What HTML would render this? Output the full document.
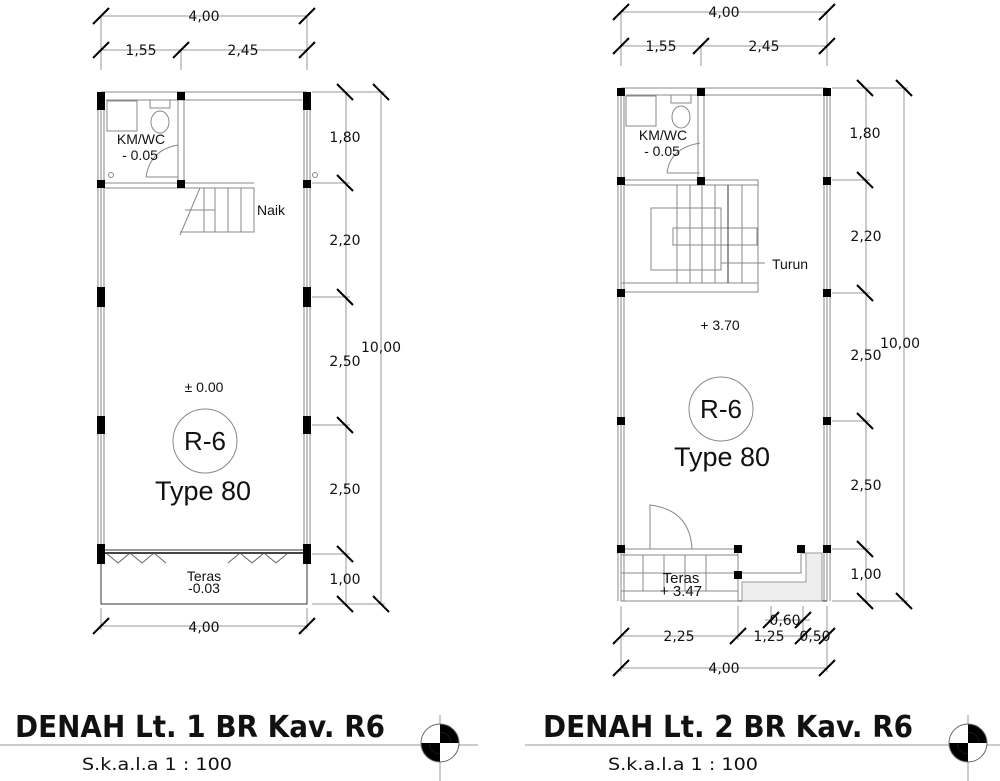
<!DOCTYPE html>
<html><head><meta charset="utf-8"><style>
html,body{margin:0;padding:0;background:#fff}
svg{display:block}
text{font-family:"DejaVu Sans","Liberation Sans",sans-serif;fill:#111}
</style></head><body>
<svg width="1000" height="781" viewBox="0 0 1000 781" xmlns="http://www.w3.org/2000/svg">
<g stroke="#999" stroke-width="1" fill="none">
<line x1="101" y1="16" x2="307" y2="16"/><line x1="101" y1="50" x2="307" y2="50"/>
<line x1="101" y1="16" x2="101" y2="70"/><line x1="307" y1="16" x2="307" y2="70"/><line x1="181" y1="50" x2="181" y2="70"/>
<line x1="346" y1="92" x2="346" y2="604"/><line x1="381" y1="92" x2="381" y2="604"/>
<line x1="312" y1="92" x2="385" y2="92"/><line x1="312" y1="183" x2="350" y2="183"/><line x1="312" y1="297" x2="350" y2="297"/><line x1="312" y1="425" x2="350" y2="425"/><line x1="312" y1="554" x2="350" y2="554"/><line x1="312" y1="604" x2="385" y2="604"/>
<line x1="101" y1="626" x2="307" y2="626"/><line x1="101" y1="608" x2="101" y2="630"/><line x1="307" y1="608" x2="307" y2="630"/>
<line x1="621" y1="12" x2="827" y2="12"/><line x1="621" y1="46" x2="827" y2="46"/>
<line x1="621" y1="12" x2="621" y2="66"/><line x1="827" y1="12" x2="827" y2="66"/><line x1="701" y1="46" x2="701" y2="66"/>
<line x1="866" y1="88" x2="866" y2="601"/><line x1="904" y1="88" x2="904" y2="601"/>
<line x1="832" y1="88" x2="908" y2="88"/><line x1="832" y1="180" x2="870" y2="180"/><line x1="832" y1="293" x2="870" y2="293"/><line x1="832" y1="421" x2="870" y2="421"/><line x1="832" y1="549" x2="870" y2="549"/><line x1="832" y1="601" x2="908" y2="601"/>
<line x1="621" y1="636" x2="827" y2="636"/><line x1="621" y1="668" x2="827" y2="668"/>
<line x1="621" y1="606" x2="621" y2="672"/><line x1="827" y1="606" x2="827" y2="672"/><line x1="738" y1="606" x2="738" y2="640"/><line x1="803" y1="606" x2="803" y2="640"/><line x1="771" y1="606" x2="771" y2="624"/>
<line x1="765" y1="620" x2="810" y2="620"/>
<line x1="0" y1="745" x2="478" y2="745"/><line x1="525" y1="745" x2="1000" y2="745"/>
<line x1="440" y1="715" x2="440" y2="781"/><line x1="968" y1="715" x2="968" y2="781"/>
</g>
<g stroke="#000" stroke-width="2">
<path d="M93 24L109 8M299 24L315 8M93 58L109 42M173 58L189 42M299 58L315 42M93 634L109 618M299 634L315 618"/>
<path d="M337 84L353 100M337 175L353 191M337 289L353 305M337 417L353 433M337 546L353 562M337 596L353 612M373 84L389 100M373 596L389 612"/>
<path d="M613 20L629 4M819 20L835 4M613 54L629 38M693 54L709 38M819 54L835 38"/>
<path d="M857 80L873 96M857 172L873 188M857 285L873 301M857 413L873 429M857 541L873 557M857 593L873 609M896 80L912 96M896 593L912 609"/>
<path d="M613 644L629 628M730 644L746 628M795 644L811 628M819 644L835 628M613 676L629 660M819 676L835 660M763 628L779 612M795 628L811 612"/>
</g>
<g stroke="#888" stroke-width="1" fill="none">
<line x1="101" y1="92" x2="307" y2="92"/><line x1="106" y1="100" x2="302" y2="100"/>
<line x1="98" y1="92" x2="98" y2="560"/><line x1="101" y1="92" x2="101" y2="560"/><line x1="104" y1="92" x2="104" y2="560"/>
<line x1="304" y1="92" x2="304" y2="560"/><line x1="307" y1="92" x2="307" y2="560"/><line x1="310" y1="92" x2="310" y2="560"/>
<rect x="101" y="550" width="206" height="54" stroke="#333"/>
<line x1="104" y1="183" x2="254" y2="183"/><line x1="104" y1="188" x2="254" y2="188"/>
<line x1="178" y1="100" x2="178" y2="183"/><line x1="184" y1="100" x2="184" y2="183"/>
<rect x="107" y="101" width="30" height="30"/><rect x="150" y="100" width="20" height="8"/>
<ellipse cx="160" cy="122" rx="9" ry="11"/>
<path d="M146 177 Q150 150 178 145"/><line x1="146" y1="177" x2="178" y2="177"/>
<path d="M180 235L200 188H254V232H180"/><line x1="215" y1="188" x2="215" y2="232"/><line x1="228" y1="188" x2="228" y2="232"/><line x1="241" y1="188" x2="241" y2="232"/><line x1="204" y1="188" x2="204" y2="232"/>
<path d="M185 210H215"/>
<circle cx="205" cy="441" r="32"/>
<path d="M106 553l12 10 12-10 12 10 12-10 12 10M228 563l12-10 12 10 12-10 12 10 12-10" stroke="#666"/>
<line x1="104" y1="553" x2="304" y2="553" stroke="#444" stroke-width="2"/>
<circle cx="111" cy="175" r="2.5"/><circle cx="315" cy="175" r="2.5"/>
</g>
<g fill="#000">
<rect x="97" y="92" width="8" height="18"/><rect x="303" y="92" width="8" height="18"/>
<rect x="177" y="92" width="8" height="8"/><rect x="97" y="180" width="8" height="8"/><rect x="177" y="180" width="8" height="8"/><rect x="303" y="180" width="8" height="8"/>
<rect x="97" y="287" width="8" height="20"/><rect x="303" y="287" width="8" height="20"/>
<rect x="97" y="416" width="8" height="18"/><rect x="303" y="416" width="8" height="18"/>
<rect x="97" y="544" width="8" height="20"/><rect x="303" y="544" width="8" height="20"/>
</g>
<g stroke="#888" stroke-width="1" fill="none">
<line x1="621" y1="88" x2="827" y2="88"/><line x1="626" y1="95" x2="822" y2="95"/>
<line x1="618" y1="88" x2="618" y2="601"/><line x1="621" y1="88" x2="621" y2="601"/><line x1="624" y1="88" x2="624" y2="601"/>
<line x1="824" y1="88" x2="824" y2="601"/><line x1="827" y1="88" x2="827" y2="601"/><line x1="830" y1="88" x2="830" y2="601"/>
<line x1="621" y1="601" x2="827" y2="601" stroke="#333"/>
<line x1="624" y1="180" x2="758" y2="180"/><line x1="624" y1="185" x2="758" y2="185"/>
<line x1="698" y1="95" x2="698" y2="180"/><line x1="704" y1="95" x2="704" y2="180"/>
<rect x="626" y="96" width="30" height="30"/><rect x="671" y="95" width="20" height="8"/>
<ellipse cx="681" cy="117" rx="9" ry="11"/>
<path d="M667 173 Q670 148 700 143"/><line x1="667" y1="173" x2="700" y2="173"/>
<rect x="621" y="180" width="137" height="112"/><line x1="621" y1="283" x2="758" y2="283"/>
<rect x="651" y="208" width="70" height="62"/><rect x="673" y="228" width="84" height="17"/>
<line x1="677" y1="185" x2="677" y2="283"/><line x1="690" y1="185" x2="690" y2="283"/><line x1="702" y1="185" x2="702" y2="283"/><line x1="715" y1="185" x2="715" y2="283"/><line x1="728" y1="185" x2="728" y2="283" stroke="#333"/><line x1="742" y1="185" x2="742" y2="283"/>
<line x1="721" y1="263" x2="765" y2="263"/>
<circle cx="721" cy="409" r="32"/>
<path d="M650 549V505 Q690 510 692 549"/>
<rect x="621" y="549" width="117" height="52"/><line x1="621" y1="555" x2="738" y2="555"/>
<line x1="621" y1="573" x2="738" y2="573"/><line x1="621" y1="591" x2="738" y2="591"/>
<line x1="643" y1="555" x2="643" y2="591"/><line x1="664" y1="555" x2="664" y2="591"/><line x1="685" y1="555" x2="685" y2="591"/><line x1="706" y1="555" x2="706" y2="591"/>
<path d="M742 573H801V553H806V582H742"/>
</g>
<path d="M742 582H806V553H822V601H742Z" fill="#eee" stroke="#999"/>
<g fill="#000">
<rect x="617" y="88" width="8" height="8"/><rect x="697" y="88" width="8" height="8"/><rect x="823" y="88" width="8" height="8"/>
<rect x="617" y="177" width="8" height="8"/><rect x="697" y="177" width="8" height="8"/><rect x="823" y="177" width="8" height="8"/>
<rect x="617" y="289" width="8" height="8"/><rect x="823" y="289" width="8" height="8"/>
<rect x="617" y="417" width="8" height="8"/><rect x="823" y="417" width="8" height="8"/>
<rect x="617" y="545" width="8" height="8"/><rect x="734" y="545" width="8" height="8"/><rect x="797" y="545" width="8" height="8"/><rect x="823" y="545" width="8" height="8"/>
<rect x="734" y="571" width="8" height="8"/>
</g>
<g font-size="14">
<text x="204" y="21" text-anchor="middle">4,00</text><text x="141" y="55" text-anchor="middle">1,55</text><text x="243" y="55" text-anchor="middle">2,45</text>
<text x="345" y="142" text-anchor="middle">1,80</text><text x="345" y="245" text-anchor="middle">2,20</text><text x="345" y="366" text-anchor="middle" fill="#666">2,50</text><text x="345" y="494" text-anchor="middle">2,50</text><text x="345" y="584" text-anchor="middle">1,00</text>
<text x="381" y="352" text-anchor="middle">10,00</text><text x="204" y="632" text-anchor="middle">4,00</text>
<text x="724" y="17" text-anchor="middle">4,00</text><text x="661" y="51" text-anchor="middle">1,55</text><text x="764" y="51" text-anchor="middle">2,45</text>
<text x="865" y="138" text-anchor="middle">1,80</text><text x="866" y="241" text-anchor="middle">2,20</text><text x="866" y="360" text-anchor="middle">2,50</text><text x="866" y="490" text-anchor="middle">2,50</text><text x="866" y="579" text-anchor="middle">1,00</text>
<text x="900" y="348" text-anchor="middle">10,00</text>
<text x="679" y="641" text-anchor="middle">2,25</text><text x="769" y="641" text-anchor="middle">1,25</text><text x="815" y="641" text-anchor="middle">0,50</text><text x="785" y="625" text-anchor="middle">0,60</text>
<text x="724" y="673" text-anchor="middle">4,00</text>
</g>
<g style="font-family:'Liberation Sans',sans-serif;font-size:14px">
<text x="141" y="144" text-anchor="middle" style="font-family:'Liberation Sans',sans-serif">KM/WC</text><text x="140" y="160" text-anchor="middle" style="font-family:'Liberation Sans',sans-serif">- 0.05</text>
<text x="257" y="215" style="font-family:'Liberation Sans',sans-serif">Naik</text>
<text x="204" y="392" text-anchor="middle" style="font-family:'Liberation Sans',sans-serif">± 0.00</text>
<text x="204" y="581" text-anchor="middle" style="font-family:'Liberation Sans',sans-serif">Teras</text><text x="204" y="593" text-anchor="middle" style="font-family:'Liberation Sans',sans-serif">-0.03</text>
<text x="663" y="140" text-anchor="middle" style="font-family:'Liberation Sans',sans-serif">KM/WC</text><text x="662" y="156" text-anchor="middle" style="font-family:'Liberation Sans',sans-serif">- 0.05</text>
<text x="772" y="269" style="font-family:'Liberation Sans',sans-serif">Turun</text>
<text x="720" y="330" text-anchor="middle" style="font-family:'Liberation Sans',sans-serif">+ 3.70</text>
<text x="681" y="583" text-anchor="middle" style="font-family:'Liberation Sans',sans-serif;font-size:15px">Teras</text><text x="681" y="596" text-anchor="middle" style="font-family:'Liberation Sans',sans-serif;font-size:15px">+ 3.47</text>
</g>
<g font-size="26">
<text x="205" y="450" text-anchor="middle" style="font-family:'Liberation Sans',sans-serif">R-6</text>
<text x="203" y="500" text-anchor="middle" style="font-family:'Liberation Sans',sans-serif;font-size:27px">Type 80</text>
<text x="721" y="418" text-anchor="middle" style="font-family:'Liberation Sans',sans-serif">R-6</text>
<text x="722" y="466" text-anchor="middle" style="font-family:'Liberation Sans',sans-serif;font-size:27px">Type 80</text>
</g>
<text x="15" y="737" textLength="370" lengthAdjust="spacingAndGlyphs" style="font-family:'DejaVu Sans',sans-serif;font-weight:bold;font-size:30px">DENAH Lt. 1 BR Kav. R6</text>
<text x="543" y="737" textLength="370" lengthAdjust="spacingAndGlyphs" style="font-family:'DejaVu Sans',sans-serif;font-weight:bold;font-size:30px">DENAH Lt. 2 BR Kav. R6</text>
<text x="82" y="770" textLength="150" lengthAdjust="spacingAndGlyphs" style="font-family:'DejaVu Sans',sans-serif;font-size:17px">S.k.a.l.a  1 : 100</text>
<text x="608" y="770" textLength="150" lengthAdjust="spacingAndGlyphs" style="font-family:'DejaVu Sans',sans-serif;font-size:17px">S.k.a.l.a  1 : 100</text>
<g>
<circle cx="440" cy="743" r="19" fill="#000"/><circle cx="440" cy="743" r="11" fill="#fff"/>
<path d="M440 743V724A19 19 0 0 0 421 743Z" fill="#fff"/><path d="M440 743V762A19 19 0 0 0 459 743Z" fill="#fff"/>
<path d="M440 743V732A11 11 0 0 1 451 743Z" fill="#000"/><path d="M440 743V754A11 11 0 0 1 429 743Z" fill="#000"/>
<circle cx="440" cy="743" r="19" fill="none" stroke="#666"/>
<circle cx="968" cy="743" r="19" fill="#000"/><circle cx="968" cy="743" r="11" fill="#fff"/>
<path d="M968 743V724A19 19 0 0 0 949 743Z" fill="#fff"/><path d="M968 743V762A19 19 0 0 0 987 743Z" fill="#fff"/>
<path d="M968 743V732A11 11 0 0 1 979 743Z" fill="#000"/><path d="M968 743V754A11 11 0 0 1 957 743Z" fill="#000"/>
<circle cx="968" cy="743" r="19" fill="none" stroke="#666"/>
</g>
</svg>
</body></html>
